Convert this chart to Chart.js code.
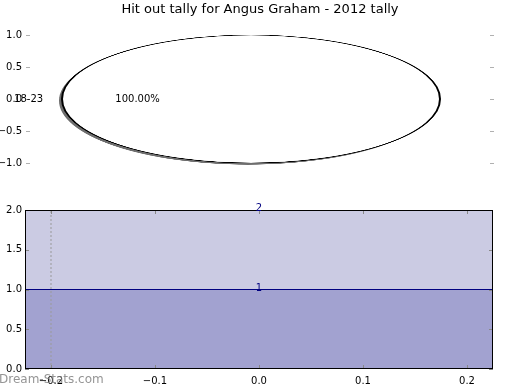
<!DOCTYPE html>
<html><head><meta charset="utf-8">
<script src="https://cdn.jsdelivr.net/npm/chart.js@4"></script>
<style>
html,body{margin:0;padding:0;background:#fff;}
#wrap{position:relative;width:520px;height:390px;overflow:hidden;background:#fff;}
canvas{position:absolute;}
</style></head><body>
<div id="wrap">
<canvas id="pie" width="390" height="390" style="left:56px;top:33px;width:390px;height:132px;"></canvas>
<canvas id="top" width="520" height="195" style="left:0;top:0;width:520px;height:195px;"></canvas>
<canvas id="bottom" width="520" height="195" style="left:0;top:195px;width:520px;height:195px;"></canvas>
</div>
<script>
const titleText = 'Hit out tally for Angus Graham - 2012 tally';
const pieLabels = ['18-23'];
const pieValues = [1];
const topYTicks = [-1, -0.5, 0, 0.5, 1];
const levelValues = [1, 2];
const levelLabels = ['1', '2'];
const xLimits = [-0.225, 0.225];
const xTicks = [-0.2, -0.1, 0, 0.1, 0.2];
const yTicks = [0, 0.5, 1, 1.5, 2];
const refLineX = [-0.2];
const watermark = 'Dream-Stats.com';

Chart.defaults.font.family = 'DejaVu Sans';
Chart.defaults.animation = false;
const FONT = 'DejaVu Sans';
const fmt = v => (v < 0 ? '\u2212' : '') + Math.abs(v).toFixed(1);

// pie geometry mapping (CSS squash of the pie canvas)
const PIE_LEFT = 56, PIE_TOP = 33, PIE_SX = 390 / 390, PIE_SY = 132 / 390;

const pieChart = new Chart(document.getElementById('pie'), {
  type: 'pie',
  data: { labels: pieLabels, datasets: [{ data: pieValues, backgroundColor: '#ffffff', borderWidth: 0 }] },
  options: {
    responsive: false, rotation: 90,
    layout: { padding: 6 },
    plugins: { legend: { display: false }, tooltip: { enabled: false } }
  },
  plugins: [{
    id: 'shadowOutline',
    beforeDatasetsDraw(chart) {
      const ctx = chart.ctx;
      chart.getDatasetMeta(0).data.forEach(arc => {
        ctx.save();
        ctx.translate(-3, 5);
        ctx.beginPath();
        ctx.arc(arc.x, arc.y, arc.outerRadius, 0, Math.PI * 2);
        ctx.fillStyle = '#6e6e6e';
        ctx.fill();
        ctx.restore();
      });
    },
    afterDatasetsDraw(chart) {
      const ctx = chart.ctx;
      chart.getDatasetMeta(0).data.forEach(arc => {
        ctx.save();
        ctx.beginPath();
        ctx.arc(arc.x, arc.y, arc.outerRadius, 0, Math.PI * 2);
        ctx.lineWidth = 2;
        ctx.strokeStyle = '#000';
        ctx.stroke();
        ctx.restore();
      });
    }
  }]
});

const topChart = new Chart(document.getElementById('top'), {
  type: 'scatter',
  data: { datasets: [] },
  options: {
    responsive: false,
    layout: { padding: { top: 35, bottom: 32, left: 0, right: 26 } },
    plugins: { legend: { display: false }, tooltip: { enabled: false } },
    scales: {
      x: { display: false, min: 0, max: 1 },
      y: {
        min: -1, max: 1,
        afterBuildTicks: s => { s.ticks = topYTicks.map(v => ({ value: v })); },
        afterFit: s => { s.width = 26; },
        grid: { display: false, drawTicks: false }, border: { display: false },
        ticks: { color: '#000', font: { size: 10 }, padding: 4, callback: v => fmt(v) }
      }
    }
  },
  plugins: [{
    id: 'decor',
    afterDraw(chart) {
      const ctx = chart.ctx, a = chart.chartArea, ys = chart.scales.y;
      ctx.save();
      ctx.fillStyle = '#000';
      ctx.font = '13px ' + FONT;
      ctx.textAlign = 'center'; ctx.textBaseline = 'middle';
      ctx.fillText(titleText, 260, 10);
      ctx.strokeStyle = '#b0b0b0'; ctx.lineWidth = 1;
      topYTicks.forEach(t => {
        const y = Math.round(ys.getPixelForValue(t)) + 0.5;
        ctx.beginPath(); ctx.moveTo(a.left, y); ctx.lineTo(a.left + 4, y); ctx.stroke();
        ctx.beginPath(); ctx.moveTo(a.right - 4, y); ctx.lineTo(a.right, y); ctx.stroke();
      });
      // pie labels placed from the pie element geometry
      const total = pieValues.reduce((s, v) => s + v, 0);
      pieChart.getDatasetMeta(0).data.forEach((arc, i) => {
        const cx = PIE_LEFT + arc.x * PIE_SX, cy = PIE_TOP + arc.y * PIE_SY;
        const rx = arc.outerRadius * PIE_SX;
        const mid = (arc.startAngle + arc.endAngle) / 2;
        const dx = Math.cos(mid), dy = Math.sin(mid) * PIE_SY / PIE_SX;
        ctx.font = '10px ' + FONT; ctx.textBaseline = 'middle'; ctx.fillStyle = '#000';
        ctx.textAlign = dx < 0 ? 'right' : 'left';
        ctx.fillText(pieLabels[i], cx + 1.1 * rx * dx, cy + 1.1 * rx * dy);
        ctx.textAlign = 'center';
        ctx.fillText((pieValues[i] / total * 100).toFixed(2) + '%', cx + 0.6 * rx * dx, cy + 0.6 * rx * dy);
      });
      ctx.restore();
    }
  }]
});

const bottomChart = new Chart(document.getElementById('bottom'), {
  type: 'line',
  data: {
    datasets: [
      { data: xLimits.map(x => ({ x, y: levelValues[0] })), fill: 'origin', backgroundColor: '#a2a2d0',
        borderColor: '#000080', borderWidth: 1, pointRadius: 0, order: 1 },
      { data: xLimits.map(x => ({ x, y: levelValues[1] })), fill: '-1', backgroundColor: '#cbcbe3',
        borderColor: '#000080', borderWidth: 1, pointRadius: 0, order: 2 },
      { data: [{ x: refLineX[0], y: yTicks[0] }, { x: refLineX[0], y: yTicks[yTicks.length - 1] }], fill: false,
        borderColor: '#9a9a9a', borderWidth: 1, borderDash: [2, 2], pointRadius: 0, order: 0 }
    ]
  },
  options: {
    responsive: false,
    layout: { padding: { top: 15, bottom: 0, left: 0, right: 27 } },
    plugins: { legend: { display: false }, tooltip: { enabled: false } },
    scales: {
      x: {
        type: 'linear', min: xLimits[0], max: xLimits[1],
        afterBuildTicks: s => { s.ticks = xTicks.map(v => ({ value: v })); },
        afterFit: s => { s.height = 21; },
        grid: { display: false, drawTicks: false }, border: { display: false },
        ticks: { color: '#000', font: { size: 10 }, padding: 6, maxRotation: 0, callback: v => fmt(v) }
      },
      y: {
        min: 0, max: 2,
        afterBuildTicks: s => { s.ticks = yTicks.map(v => ({ value: v })); },
        afterFit: s => { s.width = 25; },
        grid: { display: false, drawTicks: false }, border: { display: false },
        ticks: { color: '#000', font: { size: 10 }, padding: 3, callback: v => fmt(v) }
      }
    }
  },
  plugins: [{
    id: 'frame',
    afterDatasetsDraw(chart) {
      const ctx = chart.ctx, a = chart.chartArea, xs = chart.scales.x, ys = chart.scales.y;
      ctx.save();
      ctx.strokeStyle = '#888'; ctx.lineWidth = 1;
      xTicks.forEach(t => {
        const x = Math.round(xs.getPixelForValue(t)) + 0.5;
        ctx.beginPath(); ctx.moveTo(x, a.bottom); ctx.lineTo(x, a.bottom - 4); ctx.stroke();
        ctx.beginPath(); ctx.moveTo(x, a.top); ctx.lineTo(x, a.top + 4); ctx.stroke();
      });
      yTicks.forEach(t => {
        const y = Math.round(ys.getPixelForValue(t)) + 0.5;
        ctx.beginPath(); ctx.moveTo(a.left, y); ctx.lineTo(a.left + 4, y); ctx.stroke();
        ctx.beginPath(); ctx.moveTo(a.right, y); ctx.lineTo(a.right - 4, y); ctx.stroke();
      });
      ctx.strokeStyle = '#000'; ctx.lineWidth = 1;
      ctx.strokeRect(Math.round(a.left) + 0.5, Math.round(a.top) + 0.5, Math.round(a.right - a.left) - 1, Math.round(a.bottom - a.top) - 1);
      ctx.fillStyle = '#000080'; ctx.font = '10px ' + FONT;
      ctx.textAlign = 'center'; ctx.textBaseline = 'alphabetic';
      levelValues.forEach((v, i) => {
        ctx.fillText(levelLabels[i], xs.getPixelForValue(0), ys.getPixelForValue(v) + 1);
      });
      ctx.restore();
    },
    afterDraw(chart) {
      const ctx = chart.ctx;
      ctx.save();
      ctx.fillStyle = 'rgba(130,130,130,0.85)';
      ctx.font = '12px ' + FONT;
      ctx.textAlign = 'left'; ctx.textBaseline = 'middle';
      ctx.fillText(watermark, -1, 185);
      ctx.restore();
    }
  }]
});
</script>
</body></html>
